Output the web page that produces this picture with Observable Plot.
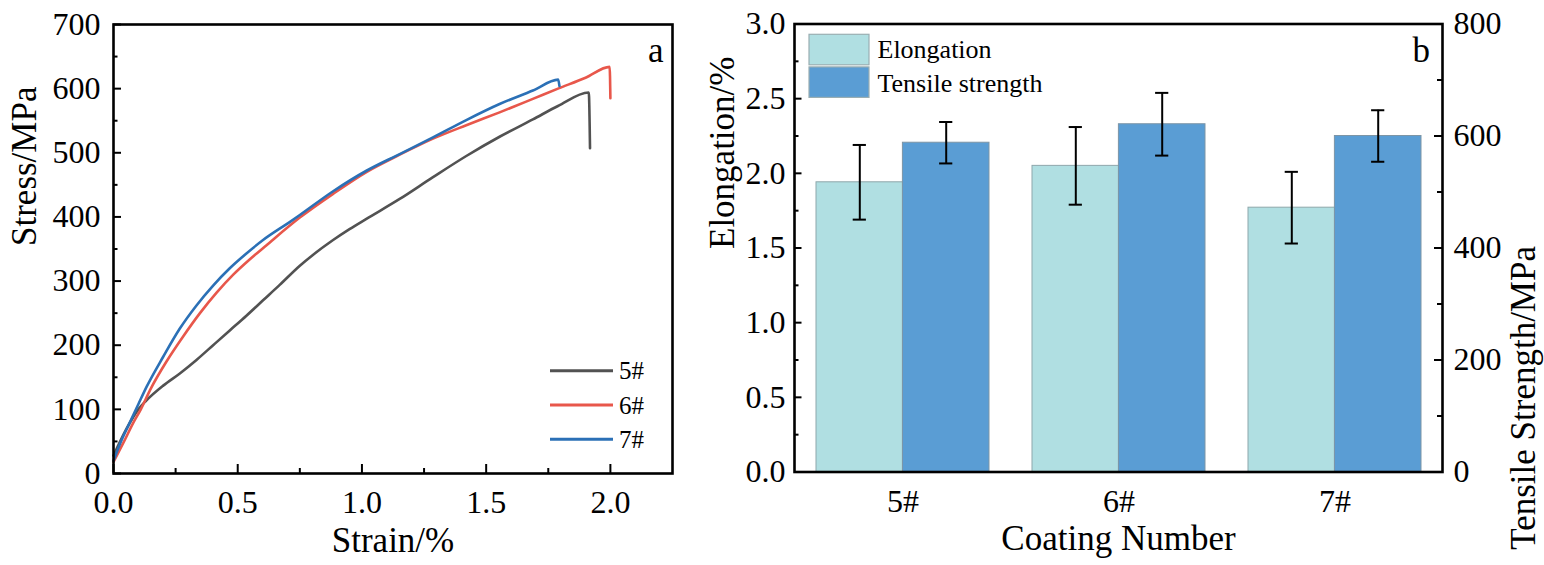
<!DOCTYPE html>
<html><head><meta charset="utf-8">
<script src="https://cdn.jsdelivr.net/npm/d3@7"></script>
<script src="https://cdn.jsdelivr.net/npm/@observablehq/plot@0.6"></script>
<style>
html,body{margin:0;padding:0;background:#fff;}
#wrap{position:relative;width:1544px;height:565px;display:flex;overflow:hidden;}
#wrap svg{display:block;flex:none;}
#wrap svg, #wrap svg text{font-family:"Liberation Serif","DejaVu Serif",serif !important;}
</style></head><body><div id="wrap"></div>
<script>
const FONT = "\"Liberation Serif\", \"DejaVu Serif\", serif";

// ---------- Panel a: stress-strain curves ----------
const samples = ["5#", "6#", "7#"];
const sampleColors = ["#525252", "#e8574b", "#2b70b6"];

const strain5 = [0, 0.05, 0.1, 0.13, 0.2, 0.267, 0.334, 0.401, 0.468, 0.535, 0.602, 0.669, 0.75, 0.8, 0.884, 0.95, 1.018, 1.152, 1.286, 1.42, 1.554, 1.688, 1.789, 1.913, 1.918];
const stress5 = [28, 68, 100, 113, 137, 156, 177, 200, 223, 246, 270, 294, 324, 340, 364, 381, 397, 428, 462, 495, 525, 552, 573, 594, 507];

const strain6 = [0, 0.04, 0.081, 0.11, 0.147, 0.214, 0.281, 0.348, 0.415, 0.482, 0.549, 0.616, 0.75, 0.884, 1.018, 1.152, 1.286, 1.42, 1.554, 1.688, 1.789, 1.9, 1.997, 2.0];
const stress6 = [18, 48, 80, 100, 130, 175, 214, 250, 282, 310, 334, 356, 399, 436, 470, 497, 522, 543, 563, 584, 600, 617, 634, 585];

const strain7 = [0, 0.03, 0.066, 0.1, 0.133, 0.2, 0.267, 0.334, 0.401, 0.468, 0.535, 0.602, 0.709, 0.75, 0.884, 1.018, 1.152, 1.286, 1.42, 1.554, 1.688, 1.79, 1.795];
const stress7 = [20, 50, 80, 108, 135, 182, 226, 262, 293, 320, 343, 364, 392, 403, 440, 472, 498, 524, 551, 576, 597, 614, 604];

const strainTicks = [0, 0.5, 1.0, 1.5, 2.0];
const strainMinor = [0.25, 0.75, 1.25, 1.75];
const stressTicks = [0, 100, 200, 300, 400, 500, 600, 700];
const stressMinor = [50, 150, 250, 350, 450, 550, 650];

// ---------- Panel b: bars ----------
const coatings = ["5#", "6#", "7#"];
const elongation = [1.94, 2.05, 1.77];
const elongationErr = [0.25, 0.26, 0.24];
const tensile = [588, 621, 600];
const tensileErr = [37, 56, 46];
const seriesNames = ["Elongation", "Tensile strength"];
const seriesColors = ["#b0dfe2", "#5a9dd4"];
const elongTicks = [0, 0.5, 1.0, 1.5, 2.0, 2.5, 3.0];
const elongMinor = [0.25, 0.75, 1.25, 1.75, 2.25, 2.75];
const tensileTicks = [0, 200, 400, 600, 800];
const tensileMinor = [100, 300, 500, 700];

const H = 565;
const wrap = document.getElementById("wrap");
const asSvg = el => el.tagName.toLowerCase() === "svg" ? el : el.querySelector("svg");

// ---- Panel a ----
const W1 = 700, mL1 = 113, mR1 = 28, mT1 = 24, mB1 = 92;
const fw1 = W1 - mL1 - mR1, fh1 = H - mT1 - mB1;
const rowsA = [];
[[strain5, stress5], [strain6, stress6], [strain7, stress7]].forEach(([xs, ys], i) => {
  xs.forEach((s, j) => rowsA.push({sample: samples[i], strain: s, stress: ys[j]}));
});

const plotA = Plot.plot({
  width: W1, height: H,
  marginLeft: mL1, marginRight: mR1, marginTop: mT1, marginBottom: mB1,
  style: {fontFamily: FONT, fontSize: "32px", color: "#000", background: "transparent", overflow: "visible"},
  x: {domain: [0, 2.25]},
  y: {domain: [0, 700]},
  color: {domain: samples, range: sampleColors},
  marks: [
    Plot.line(rowsA, {x: "strain", y: "stress", z: "sample", stroke: "sample", strokeWidth: 2.6, curve: "monotone-x", strokeLinejoin: "round"}),
    Plot.tickY(stressTicks, {y: d => d, insetRight: fw1 - 8, strokeWidth: 2}),
    Plot.tickY(stressMinor, {y: d => d, insetRight: fw1 - 4.5, strokeWidth: 2}),
    Plot.tickX(strainTicks, {x: d => d, insetTop: fh1 - 9, strokeWidth: 2}),
    Plot.tickX(strainMinor, {x: d => d, insetTop: fh1 - 5, strokeWidth: 2}),
    Plot.frame({stroke: "#000", strokeWidth: 2.6}),
    Plot.axisY({ticks: stressTicks, tickSize: 0, tickPadding: 13, label: null, fontFamily: FONT}),
    Plot.axisX({ticks: strainTicks, tickSize: 0, tickPadding: 17, tickFormat: d3.format(".1f"), label: null, fontFamily: FONT}),
    Plot.text(["Stress/MPa"], {text: d => d, frameAnchor: "left", dx: -89, dy: -3, rotate: -90, fontSize: 35, fontFamily: FONT}),
    Plot.text(["Strain/%"], {text: d => d, frameAnchor: "bottom", dy: 78, lineAnchor: "bottom", fontSize: 35, fontFamily: FONT}),
    Plot.text(["a"], {text: d => d, frameAnchor: "top-right", dx: -9, dy: 37.5, lineAnchor: "bottom", textAnchor: "end", fontSize: 35, fontFamily: FONT})
  ]
});
wrap.appendChild(plotA);
{
  const svg = d3.select(asSvg(plotA));
  const g = svg.append("g").attr("text-anchor", "start");
  const x0 = W1 - mR1 - 122, x1 = W1 - mR1 - 59, tx = W1 - mR1 - 53;
  samples.forEach((s, i) => {
    const y = 370.7 + i * 34.3;
    g.append("line").attr("x1", x0).attr("x2", x1).attr("y1", y).attr("y2", y)
      .attr("stroke", sampleColors[i]).attr("stroke-width", 3);
    g.append("text").attr("x", tx).attr("y", y).attr("dy", "0.35em").attr("text-anchor", "start")
      .attr("font-size", 25).attr("fill", "#000").text(s);
  });
}

// ---- Panel b ----
const W2 = 844, mL2 = 94, mR2 = 102, mT2 = 23.5, mB2 = 93.5;
const fw2 = W2 - mL2 - mR2, fh2 = H - mT2 - mB2;
const pIn = 0.2, pOut = 0.1;
const step = fw2 / (coatings.length - pIn + 2 * pOut);
const bw = step * (1 - pIn);
const half = bw / 2;
const capW = 13;
const k = 3 / 800; // tensile (MPa) -> elongation axis units
const rowsB = coatings.map((c, i) => ({
  coating: c,
  elong: elongation[i], elongErr: elongationErr[i],
  tens: tensile[i], tensErr: tensileErr[i]
}));

const plotB = Plot.plot({
  width: W2, height: H,
  marginLeft: mL2, marginRight: mR2, marginTop: mT2, marginBottom: mB2,
  style: {fontFamily: FONT, fontSize: "32px", color: "#000", background: "transparent", overflow: "visible"},
  x: {type: "band", domain: coatings, paddingInner: pIn, paddingOuter: pOut},
  y: {domain: [0, 3]},
  marks: [
    Plot.barY(rowsB, {x: "coating", y: "elong", insetRight: half, fill: seriesColors[0], stroke: "#8ea7ab", strokeWidth: 1}),
    Plot.barY(rowsB, {x: "coating", y: d => d.tens * k, insetLeft: half, fill: seriesColors[1], stroke: "#7d95a6", strokeWidth: 1}),
    Plot.ruleX(rowsB, {x: "coating", y1: d => d.elong - d.elongErr, y2: d => d.elong + d.elongErr, dx: -half / 2, strokeWidth: 2}),
    Plot.tickY(rowsB, {x: "coating", y: d => d.elong + d.elongErr, insetLeft: half / 2 - capW / 2, insetRight: bw - half / 2 - capW / 2, strokeWidth: 2}),
    Plot.tickY(rowsB, {x: "coating", y: d => d.elong - d.elongErr, insetLeft: half / 2 - capW / 2, insetRight: bw - half / 2 - capW / 2, strokeWidth: 2}),
    Plot.ruleX(rowsB, {x: "coating", y1: d => (d.tens - d.tensErr) * k, y2: d => (d.tens + d.tensErr) * k, dx: half / 2, strokeWidth: 2}),
    Plot.tickY(rowsB, {x: "coating", y: d => (d.tens + d.tensErr) * k, insetLeft: half * 1.5 - capW / 2, insetRight: half / 2 - capW / 2, strokeWidth: 2}),
    Plot.tickY(rowsB, {x: "coating", y: d => (d.tens - d.tensErr) * k, insetLeft: half * 1.5 - capW / 2, insetRight: half / 2 - capW / 2, strokeWidth: 2}),
    Plot.tickY(elongTicks, {y: d => d, insetRight: fw2 - 7.5, strokeWidth: 2}),
    Plot.tickY(elongMinor, {y: d => d, insetRight: fw2 - 4.5, strokeWidth: 2}),
    Plot.tickY(tensileTicks, {y: d => d * k, insetLeft: fw2 - 8, strokeWidth: 2}),
    Plot.tickY(tensileMinor, {y: d => d * k, insetLeft: fw2 - 5, strokeWidth: 2}),
    Plot.frame({stroke: "#000", strokeWidth: 2.6}),
    Plot.axisY({ticks: elongTicks, tickSize: 0, tickPadding: 9, tickFormat: d3.format(".1f"), label: null, fontFamily: FONT}),
    Plot.axisY({anchor: "right", ticks: tensileTicks.map(v => v * k), tickSize: 0, tickPadding: 11, tickFormat: v => String(Math.round(v / k)), label: null, fontFamily: FONT}),
    Plot.axisX({tickSize: 0, tickPadding: 17, label: null, fontFamily: FONT}),
    Plot.text(["Elongation/%"], {text: d => d, frameAnchor: "left", dx: -72, dy: 1, rotate: -90, fontSize: 35, fontFamily: FONT}),
    Plot.text(["Tensile Strength/MPa"], {text: d => d, frameAnchor: "right", dx: 81, dy: -2, rotate: -90, fontSize: 35, fontFamily: FONT}),
    Plot.text(["Coating Number"], {text: d => d, frameAnchor: "bottom", dy: 77.5, lineAnchor: "bottom", fontSize: 35, fontFamily: FONT}),
    Plot.text(["b"], {text: d => d, frameAnchor: "top-right", dx: -12.5, dy: 38, lineAnchor: "bottom", textAnchor: "end", fontSize: 35, fontFamily: FONT})
  ]
});
wrap.appendChild(plotB);
{
  const svg = d3.select(asSvg(plotB));
  const g = svg.append("g").attr("text-anchor", "start");
  const sx = mL2 + 15, sw = 60, sh = 30.5;
  const tops = [34.3, 66.9];
  const mids = [48.5, 82.5];
  seriesNames.forEach((s, i) => {
    g.append("rect").attr("x", sx).attr("y", tops[i]).attr("width", sw).attr("height", sh)
      .attr("fill", seriesColors[i]).attr("stroke", "#9aaeb2").attr("stroke-width", 1.2);
    g.append("text").attr("x", sx + sw + 8.5).attr("y", mids[i]).attr("dy", "0.35em").attr("text-anchor", "start")
      .attr("font-size", 26).attr("fill", "#000").text(s);
  });
}
document.querySelectorAll("#wrap text").forEach(t => t.style.setProperty("font-family", FONT, "important"));
</script>
</body></html>
